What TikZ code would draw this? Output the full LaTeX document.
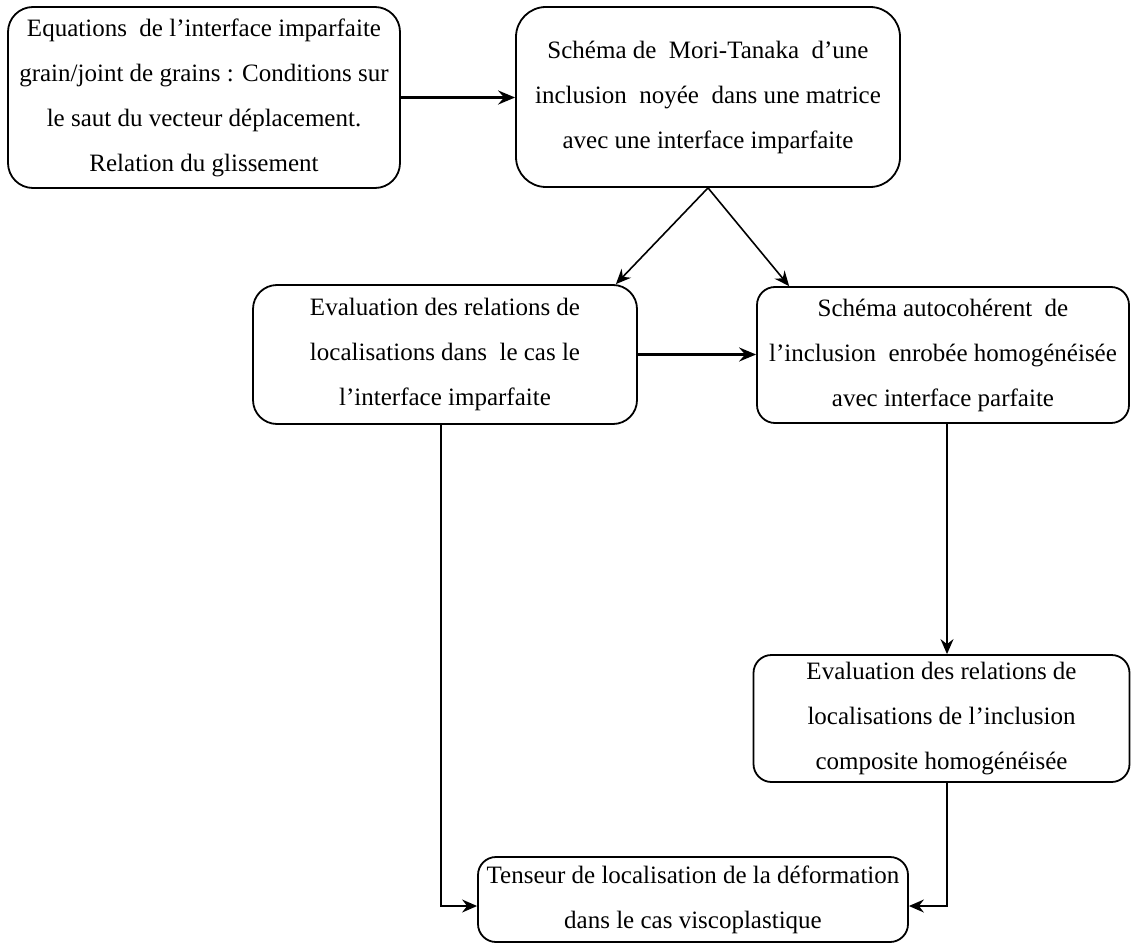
\documentclass[tikz,border=0pt]{standalone}
\usepackage{fontspec}
\setmainfont{Liberation Serif}
\usetikzlibrary{arrows.meta,calc}
\begin{document}
\begin{tikzpicture}[x=1pt,y=-1pt,
  box/.style={draw, line width=1.8pt, align=center, inner sep=0pt,
    font=\fontsize{25}{45}\selectfont},
  thinarr/.style={line width=1.6pt, -{Stealth[length=15pt,width=13pt,inset=5pt]}},
  thickarr/.style={line width=3pt, -{Stealth[length=17pt,width=14pt,inset=6pt]}}]
\useasboundingbox (0,0) rectangle (1131,944);
\fill[white] (0,0) rectangle (1131,944);

\node[box, minimum width=392pt, minimum height=181pt, rounded corners=25pt] (b1) at (204,97.5)
  {Equations\ \ de l’interface imparfaite\\ grain/joint de grains : Conditions sur\\ le saut du vecteur déplacement.\\ Relation du glissement};
\node[box, minimum width=384pt, minimum height=180pt, rounded corners=30pt] (b2) at (708,97)
  {Schéma de\ \ Mori-Tanaka\ \ d’une\\ inclusion\ \ noyée\ \ dans une matrice\\ avec une interface imparfaite};
\node[box, minimum width=384pt, minimum height=139pt, rounded corners=24pt] (b3) at (445,354.5)
  {Evaluation des relations de\\ localisations dans\ \ le cas le\\ l’interface imparfaite};
\node[box, minimum width=372pt, minimum height=136pt, rounded corners=18pt] (b4) at (943,355)
  {Schéma autocohérent\ \ de\\ l’inclusion\ \ enrobée homogénéisée\\ avec interface parfaite};
\node[box, minimum width=376pt, minimum height=127pt, rounded corners=18pt] (b5) at (941.5,718.5)
  {Evaluation des relations de\\ localisations de l’inclusion\\ composite homogénéisée};
\node[box, minimum width=430pt, minimum height=85pt, rounded corners=18pt] (b6) at (693,899.5)
  {Tenseur de localisation de la déformation\\ dans le cas viscoplastique};

\coordinate (xr) at (947,0);
\coordinate (xl) at (441,0);
\coordinate (yb) at (0,906);

\draw[thickarr] (b1.east) -- (b1.east -| b2.west);
\draw[thinarr] (b2.south) -- ($(b3.north east)+(-22,0)$);
\draw[thinarr] (b2.south) -- ($(b4.north west)+(33,0)$);
\draw[thickarr] (b3.east) -- (b3.east -| b4.west);
\draw[thinarr] (b4.south -| xr) -- (b5.north -| xr);
\draw[thinarr] (b3.south -| xl) -- (xl |- yb) -- (b6.west |- yb);
\draw[thinarr] (b5.south -| xr) -- (xr |- yb) -- (b6.east |- yb);
\end{tikzpicture}
\end{document}
